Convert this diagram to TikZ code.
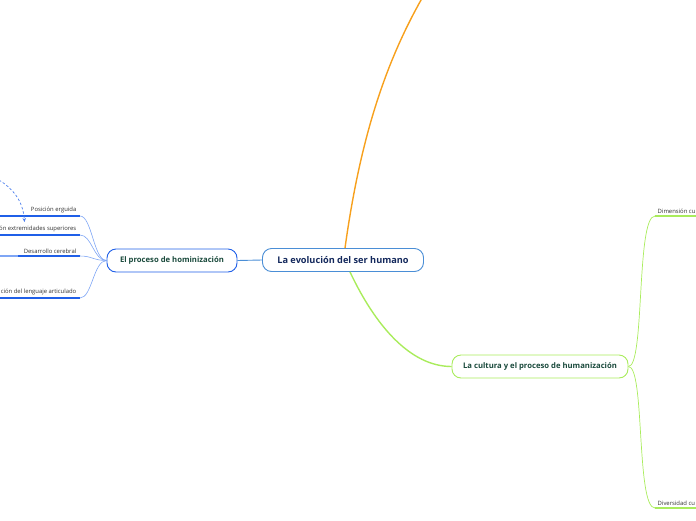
\documentclass[tikz,border=0pt]{standalone}
\usepackage{fontspec}
\setmainfont{Open Sans}
\usetikzlibrary{positioning, arrows.meta}

\definecolor{raizborde}{HTML}{4A8ED6}
\definecolor{raiztexto}{HTML}{13285C}
\definecolor{azul}{HTML}{1F5FE8}
\definecolor{azulclaro}{HTML}{7FA6F5}
\definecolor{verde}{HTML}{A9EC5C}
\definecolor{verdetexto}{HTML}{1A4A3C}
\definecolor{naranja}{HTML}{F7A01C}

\tikzset{
    tema/.style={draw, rounded corners=9pt, fill=white, line width=0.9pt,
        minimum height=23pt, inner xsep=10pt,
        font=\fontsize{7.7}{9}\selectfont\bfseries},
    raiz/.style={tema, draw=raizborde, text=raiztexto, minimum width=161pt,
        font=\fontsize{9.2}{11}\selectfont\bfseries},
    etiqueta/.style={anchor=south east, inner sep=1.5pt, text=black!80,
        font=\fontsize{5.9}{7}\selectfont},
    subrayado/.style={draw=azul, line width=1.6pt},
    rama/.style={draw=azulclaro, line width=0.6pt},
}

\begin{document}
\begin{tikzpicture}[x=1pt, y=-1pt]

\useasboundingbox (0,0) rectangle (696,520);
\clip (0,0) rectangle (696,520);

% Nodos principales
\node[raiz] (evolucion) at (343,260) {La evolución del ser humano};
\node[tema, draw=azul, text=verdetexto, minimum width=130pt] (hominizacion) at (172,260.5) {El proceso de hominización};
\node[tema, draw=verde, text=verdetexto, minimum width=176pt] (humanizacion) at (540,366.5) {La cultura y el proceso de humanización};

% Ramas del nodo central
\coordinate (arriba) at (428,-12);
\draw[naranja, line width=1.4pt] ([xshift=2pt]evolucion.north) .. controls (360,140) and (385,60) .. (arriba);
\draw[verde, line width=1.4pt] ([xshift=7pt]evolucion.south) .. controls (375,325) and (410,366.5) .. (humanizacion.west);
\draw[raizborde, line width=0.9pt] (evolucion.west) -- (hominizacion.east);

% Subtemas de la hominización
\coordinate (e1) at (80,216);
\coordinate (e1i) at (0,216);
\coordinate (e2) at (80,235);
\coordinate (e2i) at (0,235);
\coordinate (e3) at (80,256);
\coordinate (e3m) at (18,256);
\coordinate (e3i) at (0,256);
\coordinate (e4) at (80,298);
\coordinate (e4i) at (0,298);

\node[etiqueta] (erguida) at (78,215) {Posición erguida};
\node[etiqueta] (extremidades) at (78,234) {ón extremidades superiores};
\node[etiqueta] (cerebral) at (78,255) {Desarrollo cerebral};
\node[etiqueta] (lenguaje) at (78,297) {ción del lenguaje articulado};

\draw[subrayado] (e1i) -- (e1);
\draw[subrayado] (e2i) -- (e2);
\draw[draw=azulclaro, line width=1.6pt] (e3i) -- (e3m);
\draw[subrayado] (e3m) -- (e3);
\draw[subrayado] (e4i) -- (e4);

\foreach \e in {e1,e2,e3,e4}
    \draw[rama] (hominizacion.west) .. controls +(-13,0) and +(12,0) .. (\e);

% Flecha discontinua
\coordinate (flechaini) at (-1,180);
\coordinate (flechafin) at (24.5,222);
\draw[azul!80, line width=0.7pt, dash pattern=on 2.5pt off 2pt, -{Stealth[length=4pt, width=3.5pt]}] (flechaini) .. controls (12,188) and (23,200) .. (flechafin);

% Subtemas de la cultura
\coordinate (d1) at (655,216);
\coordinate (d1f) at (700,216);
\coordinate (d2) at (655,508);
\coordinate (d2f) at (700,508);

\node[etiqueta, anchor=south west] (dimension) at (656,215) {Dimensión cu};
\node[etiqueta, anchor=south west] (diversidad) at (656,507) {Diversidad cu};

\draw[verde, line width=1.6pt] (d1) -- (d1f);
\draw[verde, line width=1.6pt] (d2) -- (d2f);
\draw[verde, line width=0.7pt] (humanizacion.east) .. controls (645,366.5) and (636,216) .. (d1);
\draw[verde, line width=0.7pt] (humanizacion.east) .. controls (645,366.5) and (636,508) .. (d2);

\end{tikzpicture}
\end{document}
